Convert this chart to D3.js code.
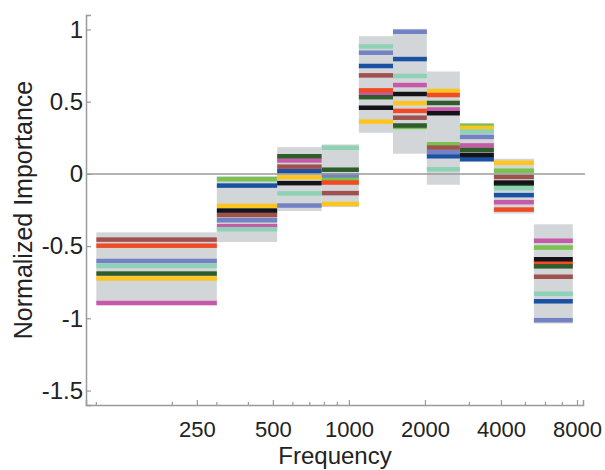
<!DOCTYPE html>
<html>
<head>
<meta charset="utf-8">
<script src="https://cdn.jsdelivr.net/npm/d3@7"></script>
<style>
  html, body { margin: 0; padding: 0; background: #fff; }
  svg { display: block; font-family: "Liberation Sans", Arial, sans-serif; }
</style>
</head>
<body>
<svg id="chart" width="605" height="470"></svg>
<script>
// ---- data ----
const bandEdges = [100, 300, 520, 780, 1095, 1495, 2035, 2750, 3750, 5400, 7700];
const boxTop    = [-0.405, -0.015, 0.185, 0.204, 0.953, 1.004, 0.709, 0.351, 0.105, -0.349];
const boxBottom = [-0.909, -0.472, -0.257, -0.230, 0.285, 0.140, -0.075, 0.082, -0.275, -1.036];

const magenta    = [-0.894, -0.362, 0.093, null, 0.556, 0.615, 0.446, 0.197, -0.196, -0.463];
const lightgreen = [null, -0.037, null, -0.034, null, 0.325, 0.205, 0.333, 0.022, -0.510];
const yellow     = [-0.724, -0.221, -0.023, -0.208, 0.362, 0.490, 0.574, 0.318, 0.077, null];
const darkblue   = [null, -0.081, 0.018, null, 0.747, 0.795, 0.122, 0.102, -0.147, -0.882];
const red        = [-0.497, null, null, -0.060, 0.578, 0.436, 0.546, null, -0.247, -0.617];
const darkgreen  = [-0.690, null, 0.122, 0.029, 0.531, 0.335, 0.491, 0.166, -0.068, -0.640];
const brown      = [-0.455, -0.285, 0.050, -0.133, 0.682, 0.389, 0.182, null, -0.021, -0.712];
const bluepurple = [-0.603, -0.321, -0.219, -0.010, 0.839, 0.984, 0.150, 0.256, null, -1.013];
const mint       = [-0.637, -0.383, -0.135, 0.181, 0.882, 0.678, 0.032, 0.293, -0.099, -0.830];
const black      = [null, -0.254, -0.064, null, 0.458, 0.553, 0.420, 0.131, -0.060, -0.591];

const yTicks = [-1.5, -1, -0.5, 0, 0.5, 1];
const xTickLabels = [250, 500, 1000, 2000, 4000, 8000];
const xMinorTicks = [100, 200, 300, 400, 600, 700, 800, 900, 3000, 5000, 6000, 7000];

const series = [
  {name: "magenta",    color: "#c75aa8", values: magenta},
  {name: "lightgreen", color: "#79c24f", values: lightgreen},
  {name: "yellow",     color: "#ffc51f", values: yellow},
  {name: "darkblue",   color: "#1b51a3", values: darkblue},
  {name: "red",        color: "#f04b24", values: red},
  {name: "darkgreen",  color: "#2e5d2b", values: darkgreen},
  {name: "brown",      color: "#a0514e", values: brown},
  {name: "bluepurple", color: "#7282c3", values: bluepurple},
  {name: "mint",       color: "#8ed2b5", values: mint},
  {name: "black",      color: "#141418", values: black}
];

// ---- layout ----
const svg = d3.select("#chart");
const axisColor = "#9a9a9a";
const x = d3.scaleLog().domain([91, 8450]).range([86, 583]);
const y = d3.scaleLinear().domain([-1.6, 1.1]).range([405, 15]);
const stripeH = 4.5;

const bands = boxTop.map((t, i) => ({i, x0: bandEdges[i], x1: bandEdges[i + 1], top: t, bottom: boxBottom[i]}));

// grey boxes
svg.append("g").selectAll("rect").data(bands).join("rect")
  .attr("x", d => x(d.x0)).attr("width", d => x(d.x1) - x(d.x0))
  .attr("y", d => y(d.top)).attr("height", d => y(d.bottom) - y(d.top))
  .attr("fill", "#d2d6d9");

// stripes
series.forEach(s => {
  const pts = s.values.map((v, i) => ({v, i})).filter(d => d.v !== null);
  svg.append("g").selectAll("rect").data(pts).join("rect")
    .attr("x", d => x(bandEdges[d.i])).attr("width", d => x(bandEdges[d.i + 1]) - x(bandEdges[d.i]))
    .attr("y", d => y(d.v) - stripeH / 2).attr("height", stripeH)
    .attr("fill", s.color);
});

// zero line
svg.append("line").attr("x1", 86).attr("x2", 585).attr("y1", y(0)).attr("y2", y(0))
  .attr("stroke", axisColor).attr("stroke-width", 1.5);

// y axis
const yAxis = svg.append("g").attr("transform", "translate(86,0)")
  .call(d3.axisLeft(y).tickValues(yTicks).tickSize(-5).tickPadding(8).tickFormat(d => String(d)));
yAxis.select(".domain").attr("stroke", axisColor).attr("stroke-width", 1.5);
yAxis.selectAll(".tick line").attr("stroke", axisColor).attr("stroke-width", 1.2);
yAxis.selectAll(".tick text").attr("font-size", 24).attr("fill", "#222").attr("x", -3);

// x axis
const xAxis = svg.append("g").attr("transform", "translate(0,405)")
  .call(d3.axisBottom(x).tickValues(xTickLabels).tickSize(-5).tickPadding(0).tickFormat(d => String(d)));
xAxis.select(".domain").attr("stroke", axisColor).attr("stroke-width", 1.5);
xAxis.selectAll(".tick line").attr("stroke", axisColor).attr("stroke-width", 1.2);
xAxis.selectAll(".tick text").attr("font-size", 22).attr("fill", "#222").attr("dy", null).attr("y", 32);
svg.append("g").selectAll("line").data(xMinorTicks).join("line")
  .attr("x1", d => x(d)).attr("x2", d => x(d)).attr("y1", 405).attr("y2", 402)
  .attr("stroke", axisColor).attr("stroke-width", 1.2);

// axis titles
svg.append("text").attr("x", 335).attr("y", 464).attr("text-anchor", "middle")
  .attr("font-size", 24).attr("fill", "#222").text("Frequency");
svg.append("text").attr("transform", "translate(32,210) rotate(-90)").attr("text-anchor", "middle")
  .attr("font-size", 25).attr("fill", "#222").text("Normalized Importance");
</script>
</body>
</html>
